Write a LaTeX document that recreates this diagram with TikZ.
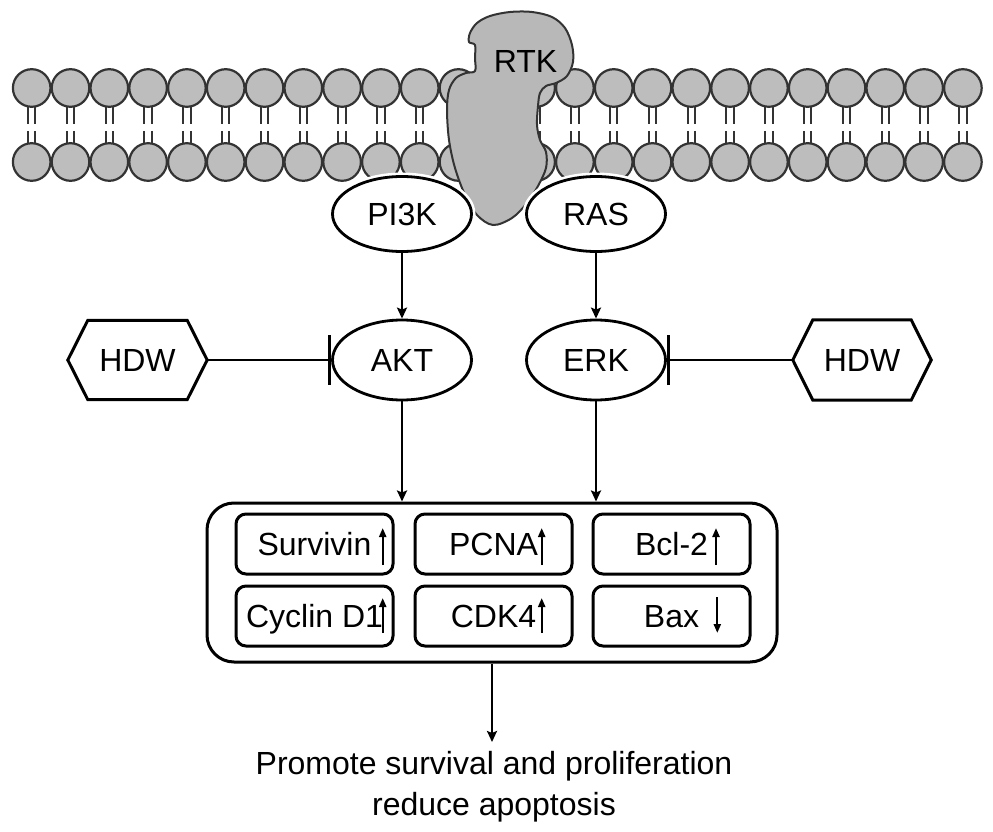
\documentclass[tikz,border=0pt]{standalone}
\usepackage{fontspec}
\setmainfont{Liberation Sans}
\usetikzlibrary{arrows.meta,shapes.geometric,calc}
\begin{document}
\begin{tikzpicture}[x=1pt,y=-1pt,
  lbl/.style={font=\fontsize{32}{38}\selectfont, text height=23pt, text depth=0pt},
  ell/.style={ellipse, draw, line width=2.8pt, fill=white, preaction={draw=white,line width=8pt}, inner sep=0pt, minimum width=139pt, lbl},
  conn/.style={line width=2.8pt, -{Stealth[length=11pt,width=10pt,inset=2pt]}},
  inh/.style={line width=2.8pt, -{Bar[width=50pt,line width=2.8pt]}},
  inbox/.style={draw, line width=3pt, rounded corners=10pt, minimum width=157pt, minimum height=60pt, inner sep=0pt, lbl},
  smallarr/.style={line width=2.2pt, -{Triangle[length=9pt,width=7pt]}},
  head/.style={fill=black!26, draw=black!80, line width=2.2pt},
  tail/.style={draw=black!80, line width=2pt},
  hexline/.style={draw, line width=3pt, line join=miter},
]
\useasboundingbox (0,0) rectangle (993,832);
% membrane
\foreach \k [evaluate=\k as \hx using 31.7+38.8*\k] in {0,...,24}{
  \draw[tail] (\hx-3.7,105) -- (\hx-3.7,124) (\hx+3.7,105) -- (\hx+3.7,124)
              (\hx-3.7,131) -- (\hx-3.7,145) (\hx+3.7,131) -- (\hx+3.7,145);
  \draw[head] (\hx,88) circle[radius=18.8pt];
  \draw[head] (\hx,162) circle[radius=18.8pt];
}
% RTK
\draw[fill=black!28, draw=black!80, line width=2pt]
  plot[smooth cycle, tension=0.55] coordinates {
   (470,33) (477,23) (490,16) (510,12) (532,12) (552,17) (565,28) (572,45)
   (573,62) (567,76) (556,83) (546,86) (540,93) (538,106) (537,125) (540,140)
   (546,152) (546,168) (538,186) (527,203) (512,218) (493,225) (477,215)
   (465,195) (455,168) (449,140) (447,110) (449,90) (456,78) (466,73)
   (475,71) (475,58) (475,45) (469,42)};
\node[lbl, inner sep=0pt] (rtk) at (525.5,61) {RTK};
% ellipses
\node[ell, minimum height=75pt] (pi3k) at (402,214) {PI3K};
\node[ell, minimum height=75pt] (ras) at (596,214) {RAS};
\node[ell, minimum height=80pt] (akt) at (402,360) {AKT};
\node[ell, minimum height=80pt] (erk) at (596,360) {ERK};
% HDW hexagons
\node[lbl, minimum width=139pt, minimum height=79pt, inner sep=0pt] (hdwL) at (137.5,360) {HDW};
\draw[hexline] (hdwL.west) -- ([xshift=20pt]hdwL.north west) -- ([xshift=-20pt]hdwL.north east)
  -- (hdwL.east) -- ([xshift=-20pt]hdwL.south east) -- ([xshift=20pt]hdwL.south west) -- cycle;
\node[lbl, minimum width=138pt, minimum height=80pt, inner sep=0pt] (hdwR) at (862,360) {HDW\hspace{8pt}};
\draw[hexline] (hdwR.west) -- ([xshift=20pt]hdwR.north west) -- ([xshift=-20pt]hdwR.north east)
  -- (hdwR.east) -- ([xshift=-20pt]hdwR.south east) -- ([xshift=20pt]hdwR.south west) -- cycle;
% connectors
\draw[conn] (pi3k) -- (akt);
\draw[conn] (ras) -- (erk);
\draw[inh] (hdwL.east) -- (akt.west);
\draw[inh] (hdwR.west) -- (erk.east);
% outer box
\node[draw, line width=3pt, rounded corners=27pt, minimum width=570pt, minimum height=159pt, inner sep=0pt] (outer) at (492,582.5) {};
\draw[conn] (akt.south) -- (akt.south |- outer.north);
\draw[conn] (erk.south) -- (erk.south |- outer.north);
% inner boxes
\node[inbox] (surv) at (314.5,544) {Survivin};
\node[inbox] (pcna) at (493.5,544) {PCNA\hspace{9pt}};
\node[inbox] (bcl) at (671.5,544) {Bcl-2\hspace{5pt}};
\node[inbox] (cyc) at (314.5,616) {Cyclin D1\hspace{4pt}};
\node[inbox] (cdk) at (493.5,616) {CDK4};
\node[inbox] (bax) at (671.5,616) {Bax};
\draw[smallarr] (382.7,565) -- (382.7,528);
\draw[smallarr] (541.7,565) -- (541.7,528);
\draw[smallarr] (716,565) -- (716,528);
\draw[smallarr] (382.7,633) -- (382.7,598);
\draw[smallarr] (541.7,633) -- (541.7,598);
\draw[smallarr] (717.3,597) -- (717.3,633);
% result
\node[anchor=north, align=center, font=\fontsize{32}{41.5}\selectfont, inner xsep=0pt, inner ysep=9pt] (result) at (494,742)
  {Promote survival and proliferation\\reduce apoptosis};
\draw[conn] (outer.south) -- (outer.south |- result.north);
\end{tikzpicture}
\end{document}
